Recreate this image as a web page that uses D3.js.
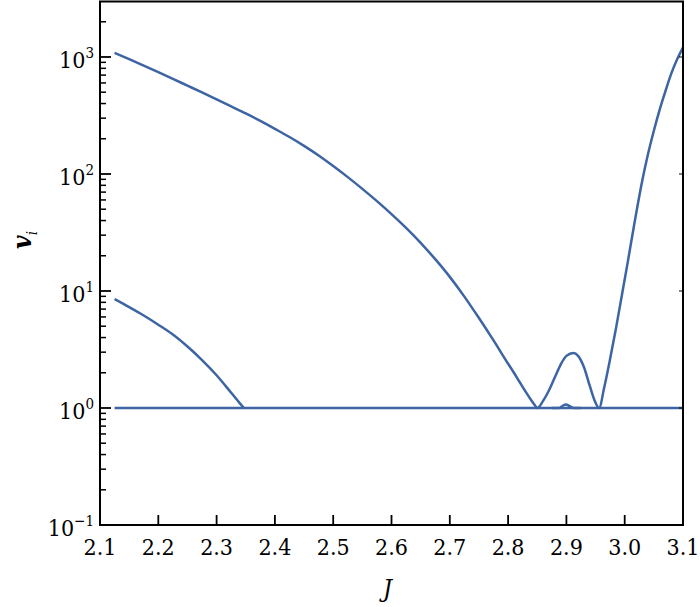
<!DOCTYPE html>
<html>
<head>
<meta charset="utf-8">
<script src="https://cdn.jsdelivr.net/npm/d3@7"></script>
<style>
  body { margin: 0; background: #fff; }
  svg { display: block; }
  svg text { font-family: 'DejaVu Serif Condensed', 'DejaVu Serif', serif; }
</style>
</head>
<body>
<svg id="chart" width="700" height="607"></svg>
<script>
// J values and v_i values
const flatJ = [2.125, 3.1];
const flatV = [1, 1];

const lowJ = [2.125, 2.15, 2.175, 2.2, 2.225, 2.25, 2.275, 2.3, 2.325, 2.34, 2.347];
const lowV = [8.51, 7.28, 6.17, 5.15, 4.24, 3.35, 2.57, 1.905, 1.35, 1.096, 1];

const highJ = [2.125, 2.15, 2.175, 2.2, 2.225, 2.25, 2.275, 2.3, 2.325, 2.35,
  2.375, 2.4, 2.425, 2.45, 2.475, 2.5, 2.525, 2.55, 2.575, 2.6,
  2.625, 2.65, 2.675, 2.7, 2.725, 2.75, 2.775, 2.8, 2.81, 2.82,
  2.83, 2.84, 2.845, 2.85, 2.86, 2.87, 2.88, 2.89, 2.9, 2.912, 2.92,
  2.93, 2.94, 2.948, 2.956, 2.965, 2.975, 2.985, 2.995, 3.005, 3.015,
  3.03, 3.04, 3.05, 3.06, 3.07, 3.08, 3.09, 3.1];
const highV = [1084, 957, 843, 741, 650, 569, 498, 434, 378, 329,
  284, 243, 207, 174, 144, 117, 94, 74.6, 58.6, 45.4,
  34.6, 25.8, 18.7, 13.2, 8.95, 5.87, 3.78, 2.39, 2.0, 1.66,
  1.38, 1.16, 1.07, 1, 1.15, 1.41, 1.82, 2.34, 2.79, 2.95, 2.79,
  2.24, 1.55, 1.17, 1, 1.51, 2.63, 4.79, 9.12, 17.4, 33.9,
  87, 148, 234, 355, 513, 724, 955, 1202];

const bumpJ = [2.875, 2.887, 2.893, 2.899, 2.905, 2.913, 2.925];
const bumpV = [1, 1, 1.04, 1.07, 1.04, 1, 1];

const xTicks = [2.1, 2.2, 2.3, 2.4, 2.5, 2.6, 2.7, 2.8, 2.9, 3.0, 3.1];
const xTickLabels = ["2.1", "2.2", "2.3", "2.4", "2.5", "2.6", "2.7", "2.8", "2.9", "3.0", "3.1"];
const yExponents = [-1, 0, 1, 2, 3];

const margin = { left: 100, right: 17, top: 1.5, bottom: 82 };
const width = 700, height = 607;
const svg = d3.select("#chart");

const x = d3.scaleLinear().domain([2.1, 3.1]).range([margin.left, width - margin.right]);
const y = d3.scaleLog().domain([0.1, 2980]).range([height - margin.bottom, margin.top]);

const lineColor = "#3d64a3";
const toPts = (js, vs) => js.map((j, i) => [j, vs[i]]);
const line = d3.line().x(d => x(d[0])).y(d => y(d[1])).curve(d3.curveMonotoneX);

const plot = svg.append("g");
[toPts(flatJ, flatV), toPts(lowJ, lowV), toPts(highJ, highV), toPts(bumpJ, bumpV)].forEach(pts => {
  plot.append("path")
    .attr("d", line(pts))
    .attr("fill", "none")
    .attr("stroke", lineColor)
    .attr("stroke-width", 2.5)
    .attr("stroke-linejoin", "round");
});

// y minor ticks (inside, left)
const minorVals = [];
for (let e = -1; e < 4; e++) {
  for (let m = 2; m <= 9; m++) {
    const v = m * Math.pow(10, e);
    if (v < 2980) minorVals.push(v);
  }
}
const axisG = svg.append("g").attr("stroke", "#000");
minorVals.forEach(v => {
  axisG.append("line")
    .attr("x1", x(2.1)).attr("x2", x(2.1) + 6)
    .attr("y1", y(v)).attr("y2", y(v))
    .attr("stroke-width", 1.5);
});
yExponents.forEach(e => {
  const v = Math.pow(10, e);
  axisG.append("line")
    .attr("x1", x(2.1)).attr("x2", x(2.1) + 11)
    .attr("y1", y(v)).attr("y2", y(v))
    .attr("stroke-width", 1.8);
  axisG.append("line")
    .attr("x1", x(3.1)).attr("x2", x(3.1) - 4)
    .attr("y1", y(v)).attr("y2", y(v))
    .attr("stroke-width", 1);
});
xTicks.slice(1, -1).forEach(t => {
  axisG.append("line")
    .attr("x1", x(t)).attr("x2", x(t))
    .attr("y1", y(0.1)).attr("y2", y(0.1) - 10)
    .attr("stroke-width", 1.8);
});

// frame
svg.append("rect")
  .attr("x", x(2.1)).attr("y", y(2980))
  .attr("width", x(3.1) - x(2.1)).attr("height", y(0.1) - y(2980))
  .attr("fill", "none").attr("stroke", "#000").attr("stroke-width", 2);

// x tick labels
svg.append("g").selectAll("text").data(xTicks).join("text")
  .attr("x", d => x(d))
  .attr("y", y(0.1) + 30)
  .attr("text-anchor", "middle")
  .attr("font-size", 23)
  .attr("fill", "#000")
  .text((d, i) => xTickLabels[i]);

// y tick labels: 10^e
const yl = svg.append("g");
yExponents.forEach(e => {
  const t = yl.append("text")
    .attr("x", x(2.1) - 6)
    .attr("y", y(Math.pow(10, e)) + 11)
    .attr("text-anchor", "end")
    .attr("font-size", 23)
    .attr("fill", "#000");
  t.append("tspan").text("10");
  t.append("tspan").attr("dy", -10).attr("font-size", 15).text(e < 0 ? "\u2212" + (-e) : String(e));
});

// axis titles
svg.append("text")
  .attr("x", (x(2.1) + x(3.1)) / 2 - 4)
  .attr("y", 597)
  .attr("text-anchor", "middle")
  .attr("font-size", 25)
  .attr("font-style", "italic")
  .text("J");

const yt = svg.append("text")
  .attr("transform", "translate(31,240) rotate(-90)")
  .attr("text-anchor", "middle")
  .attr("font-size", 26)
  .attr("font-style", "italic")
  .attr("font-weight", "bold");
yt.append("tspan").text("v");
yt.append("tspan").attr("dy", 6).attr("font-size", 15).attr("font-weight", "normal").text("i");
</script>
</body>
</html>
